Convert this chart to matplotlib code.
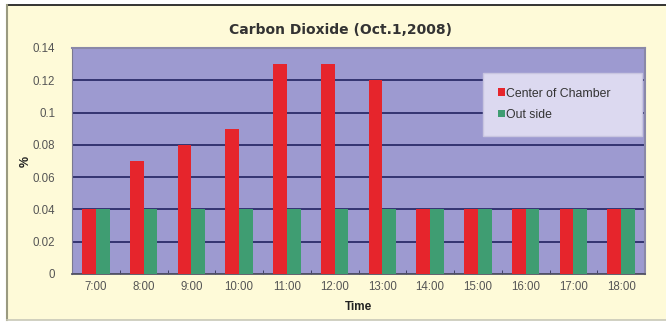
import matplotlib

matplotlib.use("Agg")
import matplotlib.pyplot as plt
import numpy as np
from matplotlib.patches import Rectangle
from matplotlib.lines import Line2D

# CO2 readings, Oct. 1 2008 (percent)
times = ["7:00", "8:00", "9:00", "10:00", "11:00", "12:00",
         "13:00", "14:00", "15:00", "16:00", "17:00", "18:00"]
center_of_chamber = [0.04, 0.07, 0.08, 0.09, 0.13, 0.13,
                     0.12, 0.04, 0.04, 0.04, 0.04, 0.04]
out_side = [0.04, 0.04, 0.04, 0.04, 0.04, 0.04,
            0.04, 0.04, 0.04, 0.04, 0.04, 0.04]
yticks = [0, 0.02, 0.04, 0.06, 0.08, 0.1, 0.12, 0.14]
ytick_labels = ["0", "0.02", "0.04", "0.06", "0.08", "0.1", "0.12", "0.14"]

RED = "#e6252c"
GREEN = "#3f9d72"
PLOT_BG = "#9d9ad0"
GRID = "#2c2c6a"
CREAM = "#fefad8"

plt.rcParams["font.family"] = ["Liberation Sans", "DejaVu Sans"]

W, H = 666, 325
fig = plt.figure(figsize=(W / 100, H / 100), dpi=100, facecolor="white")

# chart frame: cream panel with a dark top rule and a grey left edge
fig.patches.append(Rectangle((7 / W, 1 - 320 / H), 1 - 7 / W, 315 / H,
                             transform=fig.transFigure, facecolor=CREAM,
                             edgecolor="none", zorder=-10))
fig.lines.append(Line2D([7 / W, 1], [1 - 5 / H, 1 - 5 / H],
                        transform=fig.transFigure, color="#111111", lw=1.2,
                        zorder=-5))
fig.lines.append(Line2D([7 / W, 7 / W], [1 - 320 / H, 1 - 5 / H],
                        transform=fig.transFigure, color="#9a9a80", lw=1.5,
                        zorder=-5))
fig.lines.append(Line2D([7 / W, 1], [1 - 320 / H, 1 - 320 / H],
                        transform=fig.transFigure, color="#c8c8b8", lw=1.2,
                        zorder=-5))

ax = fig.add_axes([72 / W, 1 - 274 / H, (645 - 72) / W, (274 - 48) / H])
ax.set_facecolor(PLOT_BG)

x = np.arange(len(times))
bw = 0.29
ax.bar(x - bw / 2, center_of_chamber, bw, color=RED, zorder=3,
       label="Center of Chamber")
ax.bar(x + bw / 2, out_side, bw, color=GREEN, zorder=3, label="Out side")

ax.set_xlim(-0.5, len(times) - 0.5)
ax.set_ylim(0, 0.14)
ax.set_yticks(yticks)
ax.set_yticklabels(ytick_labels)
ax.set_xticks(x)
ax.set_xticklabels(times)
ax.set_xticks(np.arange(-0.5, len(times), 1), minor=True)
ax.tick_params(axis="both", which="major", length=0, labelsize=8.3,
               labelcolor="#555555")
ax.tick_params(axis="y", which="major", pad=12)
ax.tick_params(axis="x", which="major", pad=5)
ax.tick_params(axis="x", which="minor", length=3, direction="in",
               color="#333355")
ax.yaxis.grid(True, color=GRID, lw=1.3, zorder=1)
ax.set_axisbelow(True)

for side in ("top", "right"):
    ax.spines[side].set_color("#8a88a8")
    ax.spines[side].set_linewidth(1.5)
ax.spines["left"].set_color("#7a7890")
ax.spines["bottom"].set_color("#555566")
ax.spines["bottom"].set_linewidth(1.3)

fig.text(341 / W, 1 - 30 / H, "Carbon Dioxide (Oct.1,2008)", fontsize=10,
         fontweight="bold", color="#333333", ha="center", va="center",
         family=["DejaVu Sans"])
ax.set_xlabel("Time", fontsize=8.5, fontweight="bold", color="#222222",
              labelpad=6)
ax.set_ylabel("%", fontsize=9, fontweight="bold", color="#222222")
ax.yaxis.set_label_coords(-0.07, 0.5)

# legend box fixed to the upper-right region of the plot
lx0, lx1, ly0, ly1 = 483, 642, 73, 130
leg = ax.legend(loc="upper left",
                bbox_to_anchor=((lx0 - 72) / 573, (274 - ly1) / 226,
                                (lx1 - lx0) / 573, (ly1 - ly0) / 226),
                mode="expand", borderaxespad=0,
                fontsize=8.8, frameon=True, fancybox=False,
                handlelength=0.6, handleheight=0.6, handletextpad=0.1,
                borderpad=1.2, labelspacing=0.75, labelcolor="#333333")
leg.get_frame().set_facecolor("#dcd9f0")
leg.get_frame().set_edgecolor("#c8c5e0")
leg.get_frame().set_alpha(1)

fig.savefig("out.png", dpi=100, facecolor="white")
